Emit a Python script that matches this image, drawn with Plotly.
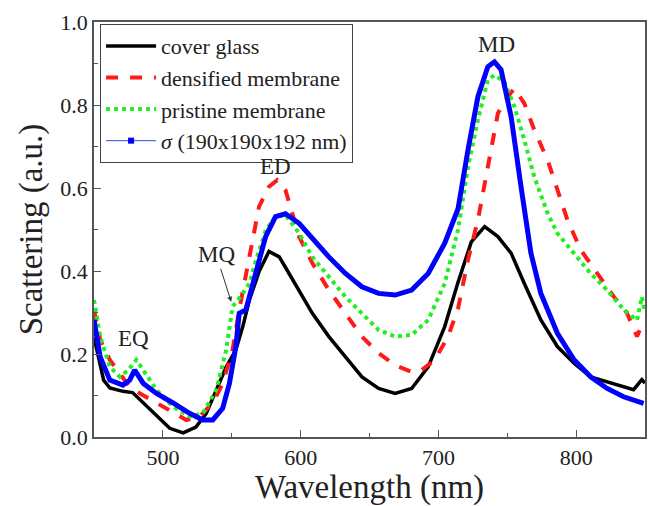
import plotly.graph_objects as go

# ---- data ----
wl_black = [450, 457, 461.5, 471, 478, 485.8, 495.4, 505, 514.7, 524, 531.5, 538.7, 546, 553, 558, 562.8,
            570, 577, 584.5, 591.6, 598.9, 608.5, 620.5, 632.5, 644.5, 656.6, 668.6, 680.6, 692.6, 704.6,
            714.2, 723.9, 733.6, 743.2, 752.8, 762.4, 774.4, 786.4, 798.5, 810.5, 822.5, 834.5, 841.7, 847.7, 850]
sc_black = [0.24, 0.137, 0.118, 0.110, 0.107, 0.082, 0.049, 0.021, 0.010, 0.024, 0.057, 0.113, 0.169, 0.21, 0.266, 0.33,
            0.40, 0.447, 0.434, 0.394, 0.354, 0.298, 0.242, 0.193, 0.145, 0.117, 0.105, 0.117, 0.169, 0.266,
            0.372, 0.470, 0.507, 0.483, 0.443, 0.370, 0.282, 0.218, 0.178, 0.145, 0.133, 0.121, 0.114, 0.138, 0.13]

wl_red = [450, 454.5, 461.5, 468.7, 476, 483.4, 495.4, 507.4, 517, 526.6, 536.2, 543.4, 550.6, 555.4, 560.2, 565,
          569.8, 577, 583, 589, 598.9, 608.5, 620.5, 632.5, 644.5, 656.6, 668.6, 680.6, 687.8, 697.4, 707,
          714.3, 721.5, 728.7, 735.9, 743.2, 750.4, 755.2, 762.4, 769.6, 779.3, 786.4, 793.7, 803.3, 815.3,
          827.4, 837, 844.2, 849]
sc_red = [0.306, 0.234, 0.186, 0.153, 0.120, 0.105, 0.082, 0.057, 0.041, 0.049, 0.082, 0.129, 0.21, 0.306, 0.386, 0.475,
          0.555, 0.603, 0.619, 0.595, 0.483, 0.419, 0.354, 0.298, 0.242, 0.202, 0.173, 0.157, 0.161, 0.186, 0.242,
          0.310, 0.427, 0.523, 0.651, 0.780, 0.820, 0.840, 0.804, 0.740, 0.667, 0.595, 0.523, 0.451, 0.394,
          0.338, 0.298, 0.242, 0.281]

wl_green = [450, 454.5, 461.5, 468.7, 474.8, 480.7, 485.8, 495.4, 507.4, 519.4, 529, 538.7, 546, 550.6, 558, 562.8,
            567.6, 574.8, 581.8, 589, 598.9, 608.5, 620.5, 632.5, 644.5, 656.6, 668.6, 680.6, 692.6, 704.6,
            714.3, 721.5, 728.7, 735.9, 740.7, 747.9, 755.2, 762.4, 769.6, 779.3, 786.4, 798.5, 810.5, 822.5,
            834.5, 844.2, 847.7, 850]
sc_green = [0.330, 0.242, 0.169, 0.145, 0.161, 0.186, 0.161, 0.113, 0.073, 0.049, 0.057, 0.113, 0.21, 0.314, 0.346, 0.370,
            0.426, 0.499, 0.531, 0.535, 0.491, 0.434, 0.386, 0.338, 0.298, 0.258, 0.242, 0.246, 0.282, 0.370,
            0.500, 0.651, 0.764, 0.860, 0.872, 0.856, 0.796, 0.716, 0.627, 0.539, 0.491, 0.443, 0.394, 0.354,
            0.307, 0.281, 0.338, 0.30]

wl_blue = [450, 454.5, 461.5, 471, 475.9, 479.5, 485.8, 495.4, 507.4, 519.4, 529, 536.2, 543.4, 548.3, 553, 555.4,
           560.2, 565, 569.8, 574.6, 581.8, 589, 598.9, 608.5, 620.5, 632.5, 644.5, 656.6, 668.6, 680.6, 692.6,
           704.6, 714.3, 721.5, 728.7, 735.9, 740.7, 745.5, 752.8, 760, 767.2, 774.4, 786.4, 798.5, 810.5,
           822.5, 834.5, 849]
sc_blue = [0.282, 0.193, 0.137, 0.125, 0.137, 0.161, 0.129, 0.105, 0.082, 0.057, 0.041, 0.041, 0.069, 0.129, 0.218, 0.298,
           0.306, 0.362, 0.419, 0.483, 0.531, 0.538, 0.515, 0.479, 0.434, 0.394, 0.362, 0.346, 0.342, 0.354, 0.394,
           0.467, 0.550, 0.692, 0.820, 0.892, 0.904, 0.885, 0.772, 0.603, 0.443, 0.346, 0.250, 0.186, 0.145,
           0.117, 0.097, 0.081]

names = ["cover glass", "densified membrane", "pristine membrane", "<i>σ</i> (190x190x192 nm)"]

peak_labels = ["EQ", "MQ", "ED", "MD"]
peak_x = [478.6, 549.6, 582, 742]
peak_y = [0.238, 0.326, 0.651, 0.945]

FONT = "Liberation Serif"

fig = go.Figure()
fig.add_trace(go.Scatter(x=wl_black, y=sc_black, mode="lines", name=names[0],
                         line=dict(color="black", width=3.5)))
fig.add_trace(go.Scatter(x=wl_red, y=sc_red, mode="lines", name=names[1],
                         line=dict(color="#ff1a1a", width=4, dash="dash")))
fig.add_trace(go.Scatter(x=wl_green, y=sc_green, mode="lines", name=names[2],
                         line=dict(color="#22ee22", width=4, dash="dot")))
fig.add_trace(go.Scatter(x=wl_blue, y=sc_blue, mode="lines", name=names[3], showlegend=False,
                         line=dict(color="#0000ff", width=5)))
# legend entry for the blue series (thin line with square marker)
fig.add_trace(go.Scatter(x=[None], y=[None], mode="lines+markers", name=names[3],
                         line=dict(color="#2255dd", width=1),
                         marker=dict(symbol="square", size=6, color="#0000ff")))

# peak labels
for i, lab in enumerate(peak_labels):
    if lab == "MQ":
        fig.add_annotation(x=peak_x[i], y=peak_y[i], text=lab, showarrow=True,
                           ax=-15, ay=-47, arrowhead=2, arrowsize=1, arrowwidth=1,
                           arrowcolor="#333", font=dict(family=FONT, size=23, color="#222"))
    else:
        fig.add_annotation(x=peak_x[i], y=peak_y[i], text=lab, showarrow=False,
                           font=dict(family=FONT, size=23, color="#222"))

axis_common = dict(showline=True, mirror=True, linecolor="#555", linewidth=1.5,
                   ticks="inside", ticklen=7, tickcolor="#555", showgrid=False, zeroline=False,
                   tickfont=dict(family=FONT, size=22, color="#222"))

fig.update_xaxes(range=[450, 850], dtick=100, tick0=500,
                 minor=dict(ticks="inside", ticklen=4, dtick=50, tickcolor="#555"),
                 title=dict(text="Wavelength (nm)", font=dict(family=FONT, size=33, color="#222"), standoff=4),
                 **axis_common)
fig.update_yaxes(range=[0, 1.0], dtick=0.2, tickformat=".1f",
                 minor=dict(ticks="inside", ticklen=4, dtick=0.1, tickcolor="#555"),
                 title=dict(text="Scattering (a.u.)", font=dict(family=FONT, size=33, color="#222"), standoff=8),
                 **axis_common)

fig.update_layout(
    width=648, height=506,
    margin=dict(l=94, r=1, t=22, b=69),
    paper_bgcolor="white", plot_bgcolor="white",
    font=dict(family=FONT, color="#222"),
    legend=dict(x=0.011, y=0.995, xanchor="left", yanchor="top",
                bgcolor="white", bordercolor="#444", borderwidth=1,
                font=dict(family=FONT, size=22, color="#222"),
                tracegroupgap=0, itemwidth=50),
)

fig.write_html("out.html")
